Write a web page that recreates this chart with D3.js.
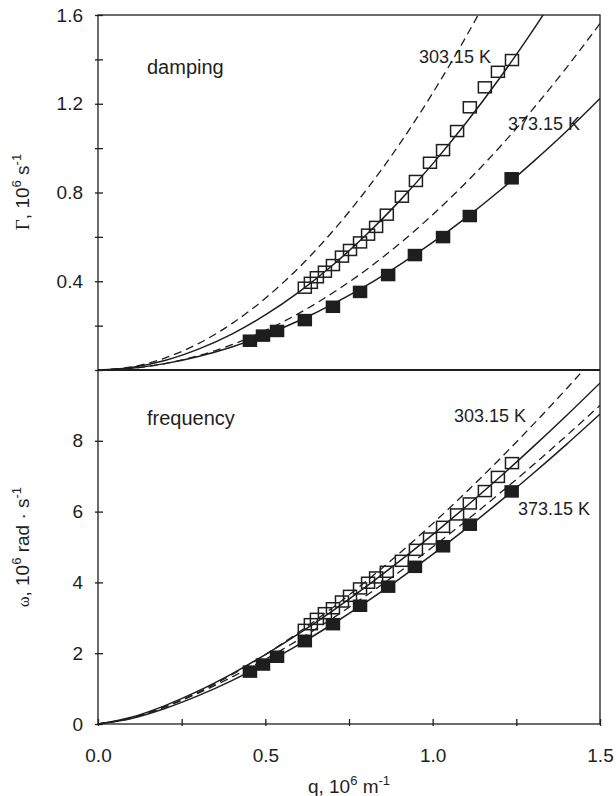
<!DOCTYPE html>
<html>
<head>
<meta charset="utf-8">
<script src="https://cdn.jsdelivr.net/npm/d3@7"></script>
<style>
  body { margin: 0; background: #fff; }
  svg { display: block; font-family: "Liberation Sans", Arial, sans-serif; }
</style>
</head>
<body>
<div id="chart"></div>
<script>
// measured points, 303.15 K (open) and 373.15 K (filled)
const qOpen = [0.618, 0.636, 0.654, 0.678, 0.702, 0.729, 0.753, 0.783, 0.807, 0.831, 0.863, 0.908, 0.950, 0.992, 1.031, 1.073, 1.111, 1.156, 1.195, 1.237];
const gammaOpen = [0.371, 0.393, 0.418, 0.443, 0.473, 0.511, 0.541, 0.575, 0.610, 0.645, 0.700, 0.781, 0.852, 0.934, 0.991, 1.077, 1.184, 1.274, 1.344, 1.397];
const omegaOpen = [2.66, 2.82, 2.97, 3.13, 3.27, 3.46, 3.62, 3.83, 3.99, 4.14, 4.30, 4.61, 4.92, 5.24, 5.57, 5.92, 6.23, 6.58, 6.98, 7.37];

const qFilled = [0.454, 0.493, 0.535, 0.618, 0.702, 0.783, 0.867, 0.947, 1.031, 1.111, 1.236];
const gammaFilled = [0.132, 0.155, 0.176, 0.225, 0.285, 0.352, 0.428, 0.518, 0.599, 0.694, 0.864];
const omegaFilled = [1.48, 1.68, 1.90, 2.34, 2.82, 3.34, 3.88, 4.44, 5.02, 5.63, 6.57];

// curves
const qCurve = [0, 0.1, 0.2, 0.3, 0.4, 0.5, 0.6, 0.7, 0.8, 0.9, 1.0, 1.1, 1.2, 1.3, 1.4, 1.5];
const gammaDash303 = [0, 0.014, 0.054, 0.119, 0.209, 0.323, 0.461, 0.623, 0.808, 1.016, 1.248, 1.503, 1.781, 2.082, 2.405, 2.752];
const gammaFit303  = [0, 0.0115, 0.043, 0.094, 0.162, 0.248, 0.351, 0.471, 0.607, 0.760, 0.929, 1.114, 1.315, 1.532, 1.765, 2.013];
const gammaDash373 = [0, 0.0073, 0.029, 0.0645, 0.114, 0.178, 0.255, 0.346, 0.450, 0.568, 0.700, 0.845, 1.004, 1.177, 1.363, 1.562];
const gammaFit373  = [0, 0.0079, 0.0287, 0.061, 0.104, 0.158, 0.222, 0.296, 0.379, 0.473, 0.575, 0.687, 0.808, 0.938, 1.076, 1.224];
const omegaDash303 = [0, 0.167, 0.482, 0.897, 1.393, 1.960, 2.591, 3.279, 4.023, 4.817, 5.66, 6.549, 7.481, 8.456, 9.471, 10.525];
const omegaFit303  = [0, 0.190, 0.519, 0.934, 1.417, 1.958, 2.551, 3.190, 3.871, 4.592, 5.35, 6.143, 6.969, 7.827, 8.715, 9.631];
const omegaDash373 = [0, 0.177, 0.485, 0.873, 1.325, 1.830, 2.384, 2.981, 3.618, 4.292, 5.0, 5.741, 6.513, 7.315, 8.145, 9.001];
const omegaFit373  = [0, 0.156, 0.438, 0.800, 1.226, 1.709, 2.241, 2.818, 3.437, 4.095, 4.79, 5.519, 6.282, 7.076, 7.900, 8.754];

const xTicks = [0, 0.25, 0.5, 0.75, 1.0, 1.25, 1.5];
const gammaTicks = [0, 0.2, 0.4, 0.6, 0.8, 1.0, 1.2, 1.4, 1.6];
const omegaTicks = [0, 2, 4, 6, 8];

const W = 616, H = 796;
const ink = "#1e1e1e";

const svg = d3.select("#chart").append("svg")
  .attr("width", W).attr("height", H);

const x = d3.scaleLinear().domain([0, 1.5]).range([98, 600]);
const yTop = d3.scaleLinear().domain([0, 1.6]).range([370, 15]);
const yBot = d3.scaleLinear().domain([0, 10]).range([724, 370]);

// clip regions for each panel
const defs = svg.append("defs");
defs.append("clipPath").attr("id", "clipTop").append("rect")
  .attr("x", 98).attr("y", 15).attr("width", 502).attr("height", 355);
defs.append("clipPath").attr("id", "clipBot").append("rect")
  .attr("x", 98).attr("y", 370).attr("width", 502).attr("height", 354);

// frame
svg.append("rect").attr("x", 98).attr("y", 15).attr("width", 502).attr("height", 709)
  .attr("fill", "none").attr("stroke", ink).attr("stroke-width", 1.3);
svg.append("line").attr("x1", 98).attr("x2", 600).attr("y1", 370).attr("y2", 370)
  .attr("stroke", ink).attr("stroke-width", 2);

function crossTicks(g, inner, outer, vertical) {
  g.select(".domain").remove();
  if (vertical) {
    g.selectAll(".tick line").attr("x1", inner).attr("x2", -outer).attr("stroke", ink).attr("stroke-width", 1.3);
  } else {
    g.selectAll(".tick line").attr("y1", -inner).attr("y2", outer).attr("stroke", ink).attr("stroke-width", 1.3);
  }
  g.selectAll(".tick text").attr("fill", ink);
}

// top panel axis
const gTopAxis = svg.append("g").attr("transform", "translate(98,0)")
  .call(d3.axisLeft(yTop).tickValues(gammaTicks).tickSize(3).tickPadding(12)
    .tickFormat(d => (Math.round(d * 10) % 4 === 0 && d > 0) ? d3.format(".1f")(d) : ""))
  .attr("font-size", 19).attr("font-family", null);
crossTicks(gTopAxis, 5, 3, true);

// bottom panel axis
const gBotAxis = svg.append("g").attr("transform", "translate(98,0)")
  .call(d3.axisLeft(yBot).tickValues(omegaTicks).tickSize(3).tickPadding(12).tickFormat(d3.format("d")))
  .attr("font-size", 19).attr("font-family", null);
crossTicks(gBotAxis, 5, 3, true);

// x axis
const gX = svg.append("g").attr("transform", "translate(0,724)")
  .call(d3.axisBottom(x).tickValues(xTicks).tickSize(2).tickPadding(23)
    .tickFormat(d => (Math.round(d * 100) % 50 === 0) ? d3.format(".1f")(d) : ""))
  .attr("font-size", 19).attr("font-family", null);
crossTicks(gX, 5, 2, false);

// curves
function drawCurves(panelClip, yScale, series) {
  const g = svg.append("g").attr("clip-path", "url(#" + panelClip + ")");
  series.forEach(s => {
    const line = d3.line()
      .x((d, i) => x(qCurve[i]))
      .y(d => yScale(d))
      .curve(d3.curveMonotoneX);
    g.append("path")
      .attr("d", line(s.values))
      .attr("fill", "none")
      .attr("stroke", ink)
      .attr("stroke-width", s.dashed ? 1.3 : 1.5)
      .attr("stroke-dasharray", s.dashed ? "8,5" : null);
  });
}

drawCurves("clipTop", yTop, [
  { values: gammaDash303, dashed: true },
  { values: gammaFit303, dashed: false },
  { values: gammaDash373, dashed: true },
  { values: gammaFit373, dashed: false }
]);
drawCurves("clipBot", yBot, [
  { values: omegaDash303, dashed: true },
  { values: omegaFit303, dashed: false },
  { values: omegaDash373, dashed: true },
  { values: omegaFit373, dashed: false }
]);

// markers
const mw = 13, mh = 11;
function drawSquares(qs, vs, yScale, filled) {
  svg.append("g").selectAll("rect")
    .data(qs)
    .join("rect")
    .attr("x", (d) => x(d) - mw / 2)
    .attr("y", (d, i) => yScale(vs[i]) - mh / 2)
    .attr("width", mw)
    .attr("height", mh)
    .attr("fill", filled ? ink : "none")
    .attr("stroke", ink)
    .attr("stroke-width", 1.5);
}
drawSquares(qOpen, gammaOpen, yTop, false);
drawSquares(qFilled, gammaFilled, yTop, true);
drawSquares(qOpen, omegaOpen, yBot, false);
drawSquares(qFilled, omegaFilled, yBot, true);

// panel annotations
function label(txt, lx, ly, size) {
  svg.append("text").attr("x", lx).attr("y", ly)
    .attr("font-size", size).attr("fill", ink).text(txt);
}
label("damping", 147, 74, 20);
label("frequency", 147, 425, 20);
label("303.15 K", 419, 63, 18);
label("373.15 K", 508, 130, 18);
label("303.15 K", 454, 422, 18);
label("373.15 K", 518, 515, 18);

// axis titles
const xt = svg.append("text").attr("x", 349).attr("y", 793)
  .attr("text-anchor", "middle").attr("font-size", 19).attr("fill", ink);
xt.append("tspan").text("q, 10");
xt.append("tspan").attr("dy", -8).attr("font-size", 13).text("6");
xt.append("tspan").attr("dy", 8).text(" m");
xt.append("tspan").attr("dy", -8).attr("font-size", 13).text("-1");

const yt1 = svg.append("text")
  .attr("transform", "translate(29,192) rotate(-90)")
  .attr("text-anchor", "middle").attr("font-size", 19).attr("fill", ink);
yt1.append("tspan").attr("font-family", "'Liberation Serif', 'Times New Roman', serif").text("Γ");
yt1.append("tspan").text(", 10");
yt1.append("tspan").attr("dy", -8).attr("font-size", 13).text("6");
yt1.append("tspan").attr("dy", 8).text(" s");
yt1.append("tspan").attr("dy", -8).attr("font-size", 13).text("-1");

const yt2 = svg.append("text")
  .attr("transform", "translate(29,547) rotate(-90)")
  .attr("text-anchor", "middle").attr("font-size", 19).attr("fill", ink);
yt2.append("tspan").attr("font-family", "'Liberation Serif', 'Times New Roman', serif").attr("font-size", 16).text("ω");
yt2.append("tspan").text(", 10");
yt2.append("tspan").attr("dy", -8).attr("font-size", 13).text("6");
yt2.append("tspan").attr("dy", 8).text(" rad · s");
yt2.append("tspan").attr("dy", -8).attr("font-size", 13).text("-1");
</script>
</body>
</html>
